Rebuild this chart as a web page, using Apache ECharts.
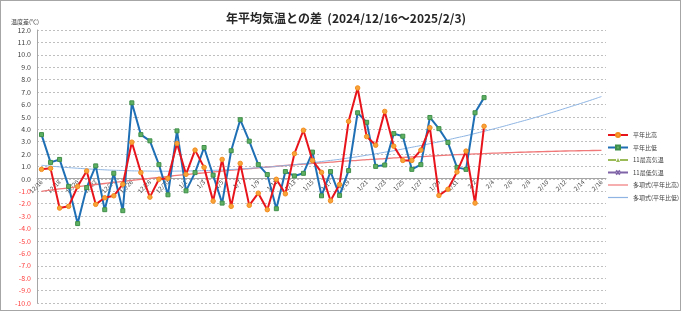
<!DOCTYPE html>
<html><head><meta charset="utf-8">
<script src="https://cdn.jsdelivr.net/npm/echarts@6/dist/echarts.min.js"></script>
<style>
html,body{margin:0;padding:0;background:#fff;}
#c{width:679px;height:309px;border:1px solid #a6a6a6;}
</style></head>
<body><div id="c"></div>
<script>
const categories = ["12/16","12/17","12/18","12/19","12/20","12/21","12/22","12/23","12/24","12/25","12/26","12/27","12/28","12/29","12/30","12/31",
"1/1","1/2","1/3","1/4","1/5","1/6","1/7","1/8","1/9","1/10","1/11","1/12","1/13","1/14","1/15","1/16","1/17","1/18","1/19","1/20","1/21","1/22","1/23","1/24","1/25","1/26","1/27","1/28","1/29","1/30","1/31",
"2/1","2/2","2/3","2/4","2/5","2/6","2/7","2/8","2/9","2/10","2/11","2/12","2/13","2/14","2/15","2/16"];
const highDiff = [0.77,0.85,-2.35,-2.21,-0.61,0.64,-2.05,-1.52,-1.36,-0.43,2.96,0.51,-1.47,-0.03,0.05,2.85,0.37,2.32,0.93,-1.79,1.57,-2.21,1.25,-2.13,-1.15,-2.48,-0.03,-1.2,2.03,3.92,1.49,0.53,-1.76,-0.45,4.64,7.33,3.41,2.72,5.44,2.64,1.49,1.49,2.32,4.13,-1.33,-0.83,0.56,2.24,-1.95,4.24];
const lowDiff = [3.57,1.33,1.57,-0.6,-3.6,-0.7,1.05,-2.48,0.45,-2.56,6.13,3.57,3.07,1.15,-1.28,3.87,-0.96,0.51,2.53,0.3,-1.95,2.27,4.77,3.04,1.15,0.35,-2.4,0.59,0.24,0.45,2.16,-1.36,0.59,-1.33,0.67,5.33,4.56,1.01,1.12,3.65,3.44,0.77,1.15,4.95,4.05,2.93,0.93,0.77,5.33,6.55];
const max11 = [];
const min11 = [];
const trendHigh = [-1.00,-0.91,-0.81,-0.72,-0.63,-0.54,-0.45,-0.37,-0.28,-0.20,-0.12,-0.03,0.05,0.12,0.20,0.28,0.35,0.42,0.49,0.56,0.63,0.70,0.77,0.83,0.89,0.96,1.02,1.08,1.14,1.19,1.25,1.30,1.35,1.41,1.46,1.50,1.55,1.60,1.64,1.69,1.73,1.77,1.80,1.84,1.88,1.91,1.95,1.98,2.01,2.04,2.07,2.10,2.12,2.15,2.17,2.19,2.21,2.23,2.25,2.26,2.28,2.29,2.30];
const trendLow = [1.10,1.03,0.97,0.91,0.86,0.81,0.77,0.73,0.70,0.68,0.65,0.64,0.63,0.62,0.62,0.63,0.64,0.65,0.67,0.69,0.72,0.76,0.80,0.85,0.90,0.95,1.01,1.08,1.15,1.23,1.31,1.40,1.49,1.58,1.69,1.79,1.91,2.02,2.15,2.27,2.41,2.55,2.69,2.84,2.99,3.15,3.32,3.48,3.66,3.84,4.02,4.21,4.41,4.61,4.81,5.02,5.24,5.46,5.69,5.92,6.15,6.39,6.64];
const seriesNames = ["平年比高","平年比低","11最高気温","11最低気温","多項式(平年比高)","多項式(平年比低)"];

const font = "'Noto Sans CJK JP', sans-serif";
const lineIcon = 'path://M0,0H20V1.2H0Z';
const chart = echarts.init(document.getElementById('c'));
chart.setOption({
  animation:false,
  textStyle:{fontFamily:font},
  title:{text:"年平均気温との差  (2024/12/16～2025/2/3)",left:340,textAlign:'center',top:6,
    textStyle:{fontSize:12,fontWeight:'bold',color:'#262626',fontFamily:font}},
  grid:{left:36,right:74,top:29,bottom:7,containLabel:false,outerBoundsMode:'none'},
  legend:{orient:'vertical',left:601,top:125,itemGap:4.5,itemWidth:20,itemHeight:5,
    textStyle:{fontSize:6,color:'#404040',fontFamily:font,lineHeight:8},
    data:[{name:seriesNames[0]},{name:seriesNames[1]},{name:seriesNames[2]},{name:seriesNames[3]},
      {name:seriesNames[4],icon:lineIcon},{name:seriesNames[5],icon:lineIcon}]},
  xAxis:{type:'category',data:categories,boundaryGap:true,offset:-125,
    axisLine:{onZero:false,lineStyle:{color:'#a6a6a6',width:1}},
    axisTick:{show:false},
    axisLabel:{interval:1,rotate:45,fontSize:6,color:'#404040',margin:3,fontFamily:font}},
  yAxis:{type:'value',min:-10,max:12,interval:1,name:'温度差(℃)',
    nameLocation:'end',nameGap:5,nameTextStyle:{fontSize:6,color:'#404040',align:'right',padding:[0,-2,0,0]},
    axisLine:{show:true,lineStyle:{color:'#a6a6a6'}},axisTick:{show:false},
    splitLine:{lineStyle:{color:'#bfbfbf',type:[2,2],width:1}},
    axisLabel:{fontSize:7,margin:6,formatter:v=>v.toFixed(1),
      color:v=>(Number(v)<0?'#ff4040':'#404040')}},
  series:[
    {name:seriesNames[0],type:'line',data:highDiff,symbol:'circle',symbolSize:4.5,
      lineStyle:{color:'#e8141c',width:2},itemStyle:{color:'#f7a33a',borderColor:'#f28c1e',borderWidth:1},z:4},
    {name:seriesNames[1],type:'line',data:lowDiff,symbol:'rect',symbolSize:4,
      lineStyle:{color:'#1f6fb5',width:2},itemStyle:{color:'#5fb062',borderColor:'#3f8f4a',borderWidth:1},z:3},
    {name:seriesNames[2],type:'line',data:max11,symbol:'triangle',symbolSize:4,
      lineStyle:{color:'#9bbb59',width:2,type:'dashed'},itemStyle:{color:'#9bbb59'}},
    {name:seriesNames[3],type:'line',data:min11,symbol:'path://M0,0L10,10M10,0L0,10',symbolSize:4,
      lineStyle:{color:'#7f64a8',width:2,type:'dashed'},itemStyle:{color:'#7f64a8',borderColor:'#7f64a8',borderWidth:1.5}},
    {name:seriesNames[4],type:'line',data:trendHigh,symbol:'none',smooth:true,
      lineStyle:{color:'#f07878',width:1.3},itemStyle:{color:'#f07878'},z:2},
    {name:seriesNames[5],type:'line',data:trendLow,symbol:'none',smooth:true,
      lineStyle:{color:'#8db4e2',width:1},itemStyle:{color:'#8db4e2'},z:2}
  ]
});
</script></body></html>
